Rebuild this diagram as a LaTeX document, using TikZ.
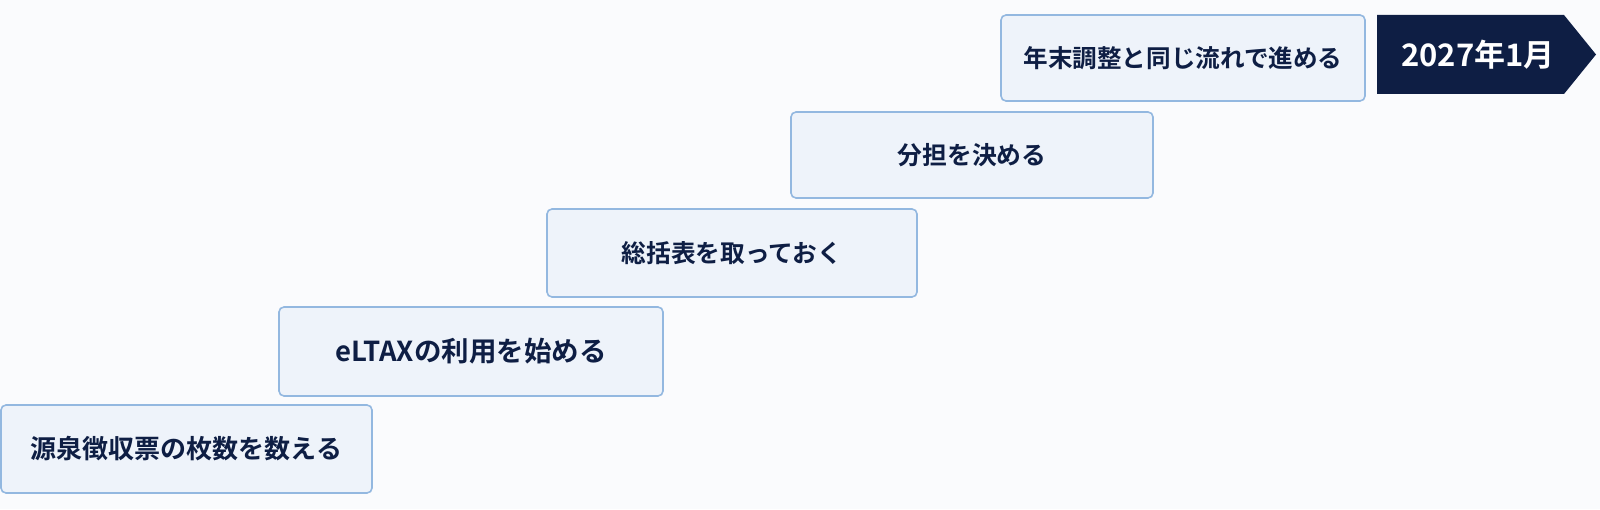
\documentclass[tikz,border=0pt]{standalone}
\usepackage{fontspec}
\setmainfont{Noto Sans CJK JP}[BoldFont={* Bold}]

\definecolor{boxfill}{HTML}{EEF3FA}
\definecolor{boxline}{HTML}{93B8E0}
\definecolor{navy}{HTML}{0E1E44}
\definecolor{paper}{HTML}{FAFBFD}

\newcommand{\stairsize}[1]{\fontsize{#1}{#1}\selectfont}

\begin{document}
\begin{tikzpicture}[x=1pt,y=1pt,
    stair node/.style={draw=boxline,line width=1.6pt,fill=boxfill,rounded corners=5pt,
        inner sep=0pt,text=navy,font=\bfseries\stairsize{24.5}},
    date node/.style={inner sep=0pt,text=white,font=\bfseries\stairsize{31}}]
    \fill[paper] (0,0) rectangle (1600,509);
    \useasboundingbox (0,0) rectangle (1600,509);

    % staircase, bottom to top
    \node[stair node,minimum width=371,minimum height=88,font=\bfseries\stairsize{26}] (count) at (186.5,60) {源泉徴収票の枚数を数える};
    \node[stair node,minimum width=384,minimum height=89,font=\bfseries\stairsize{27.5}] (eltax) at (471,157.5) {eLTAXの利用を始める};
    \node[stair node,minimum width=370,minimum height=88,font=\bfseries\stairsize{24.7}] (summary) at (732,256) {総括表を取っておく};
    \node[stair node,minimum width=362,minimum height=86,font=\bfseries\stairsize{24.8}] (share) at (972,354) {分担を決める};
    \node[stair node,minimum width=364,minimum height=86,font=\bfseries\stairsize{24.6}] (flow) at (1183,451) {年末調整と同じ流れで進める};

    % target date
    \fill[navy] (1377,494) -- (1564,494) -- (1596,454.5) -- (1564,415) -- (1377,415) -- cycle;
    \node[date node] (date) at (1478,454.5) {2027年1月};
\end{tikzpicture}
\end{document}
